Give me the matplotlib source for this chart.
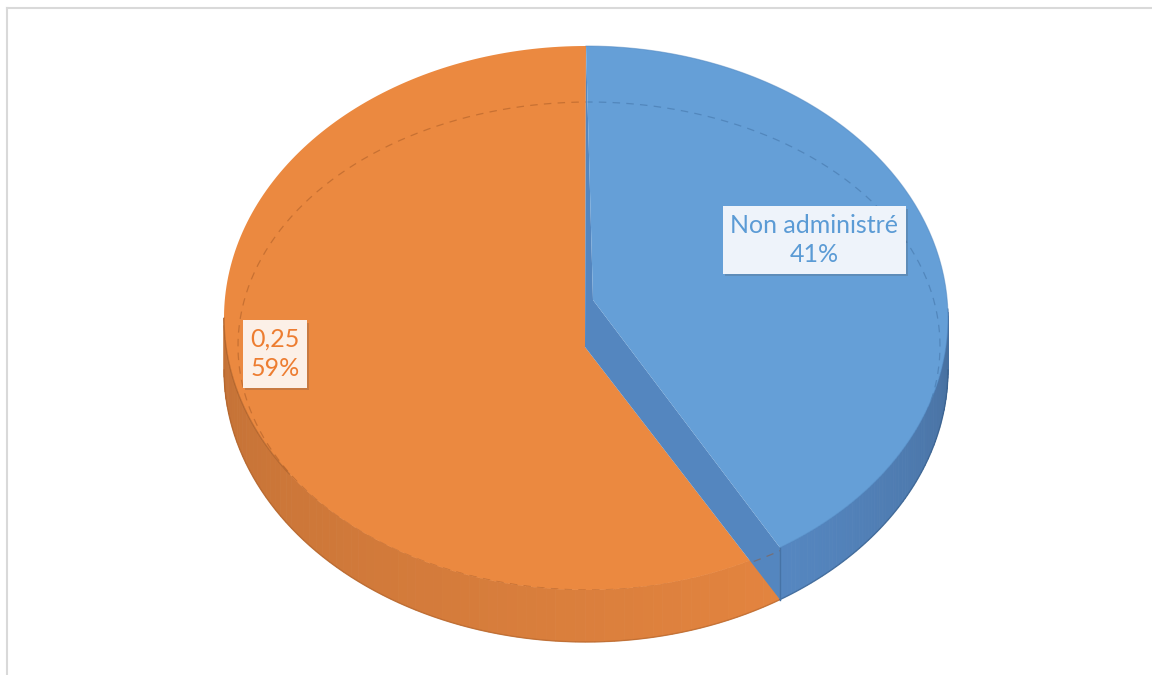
import numpy as np
import matplotlib
matplotlib.use("Agg")
import matplotlib.pyplot as plt
from matplotlib.patches import Polygon
from matplotlib import patheffects as pe
from matplotlib.colors import to_rgb

# Données du graphique
categories = ["Non administré", "0,25"]
values = [41, 59]
face_colors = ["#659fd7", "#eb8940"]
wall_colors = ["#5a8ecb", "#e3843f"]
text_colors = ["#5b9bd5", "#ed7d31"]
box_colors = ["#eef3fa", "#fcf0e7"]

W, H = 1152, 675
fig = plt.figure(figsize=(W / 100, H / 100), dpi=100)
ax = fig.add_axes([0, 0, 1, 1])
ax.set_xlim(0, W)
ax.set_ylim(H, 0)
ax.axis("off")

# cadre du graphique
ax.plot([6.5, W], [7.5, 7.5], color="#d9d9d9", lw=1.5)
ax.plot([6.5, 6.5], [7.5, H], color="#d9d9d9", lw=1.5)

# géométrie du camembert 3D (ellipse du dessus + épaisseur)
cx, cy, a, b, h = 586, 318, 362, 272, 52


def pt(phi, dy=0.0):
    r = np.radians(phi)
    return np.column_stack([cx + a * np.cos(r), cy - b * np.sin(r) + dy])


def shade(c, f):
    c = np.array(to_rgb(c))
    return tuple(np.clip(c * f, 0, 1))


# angles : départ à 12 h, sens horaire
fracs = np.array(values) / np.sum(values)
starts = 90 - 360 * np.concatenate([[0], np.cumsum(fracs)[:-1]])
ends = starts - 360 * fracs
split = ends[0]  # limite entre les deux parts (en bas à droite)


# paroi latérale visible (moitié avant), en petits segments pour l'ombrage
def wall(phi0, phi1, base, lo, hi):
    steps = np.linspace(phi0, phi1, 80)
    for i in range(len(steps) - 1):
        seg = np.linspace(steps[i], steps[i + 1], 4)
        top = pt(seg)
        bot = pt(seg[::-1], h)
        t = (0.5 * (steps[i] + steps[i + 1]) - phi0) / (phi1 - phi0)
        f = lo + (hi - lo) * t
        ax.add_patch(Polygon(np.vstack([top, bot]), closed=True,
                             fc=shade(base, f), ec=shade(base, f), lw=0.6))


split_pos = split % 360
wall(180, split_pos, wall_colors[1], 0.86, 1.0)
wall(split_pos, 362, wall_colors[0], 0.95, 0.78)

# liseré sombre sur le bord de la paroi
arc = np.linspace(180, split_pos, 100)
ax.plot(*pt(arc, h).T, color="#a85c25", lw=1.0, alpha=0.5)
arc = np.linspace(split_pos, 360, 60)
ax.plot(*pt(arc, h).T, color="#2f557f", lw=1.0, alpha=0.5)
ax.plot(*pt(np.linspace(180, 215, 30), 0).T, color="#8a4a1c", lw=1.0, alpha=0.4)

# sommets des deux parts
apex_o = np.array([cx - 1, cy + 29])
apex_b = np.array([cx + 7, cy - 18])
top_pt = pt([90])[0]
p_top = pt([split])[0]
p_bot = pt([split], h)[0]

# face supérieure orange
poly = np.vstack([apex_o, p_bot, pt(np.linspace(split, -270, 200))])
face_o = Polygon(poly, closed=True, fc=face_colors[1], ec="none")
ax.add_patch(face_o)

# ellipse en pointillés (arête du fond visible par transparence)
t = np.radians(np.linspace(0, 360, 400))
ex = 589 + 351 * np.cos(t)
ey = 346 - 244 * np.sin(t)
dash_o, = ax.plot(ex, ey, color="#9c5322", lw=0.9, ls=(0, (6, 5)), alpha=0.45)
dash_o.set_clip_path(face_o)

# paroi de coupe de la part bleue
cut = np.vstack([top_pt, apex_b, p_top, p_bot, apex_o])
ax.add_patch(Polygon(cut, closed=True, fc="#5486bf", ec="none"))
ax.plot([p_top[0], p_bot[0]], [p_top[1], p_bot[1]], color="#4673a6", lw=1.0)

# face supérieure bleue
poly = np.vstack([apex_b, pt(np.linspace(90, split, 150))])
face_b = Polygon(poly, closed=True, fc=face_colors[0], ec="none")
ax.add_patch(face_b)
ax.plot(*pt(np.linspace(90, split, 150)).T, color="#4f86c0", lw=0.8, alpha=0.5)
dash_b, = ax.plot(ex, ey, color="#2f5a8a", lw=0.9, ls=(0, (6, 5)), alpha=0.35)
dash_b.set_clip_path(face_b)

# étiquettes de données
label_pos = [(814, 240), (275, 354)]
for i, (x, y) in enumerate(label_pos):
    txt = ax.text(x, y, f"{categories[i]}\n{values[i]}%", ha="center",
                  va="center", fontsize=18, family="Lato",
                  color=text_colors[i], linespacing=1.32,
                  bbox=dict(boxstyle="square,pad=0.3", fc=box_colors[i],
                            ec="none"))
    txt.get_bbox_patch().set_path_effects(
        [pe.SimplePatchShadow(offset=(1.5, -1.5), alpha=0.22), pe.Normal()])

fig.savefig("out.png", dpi=100, facecolor="white")
